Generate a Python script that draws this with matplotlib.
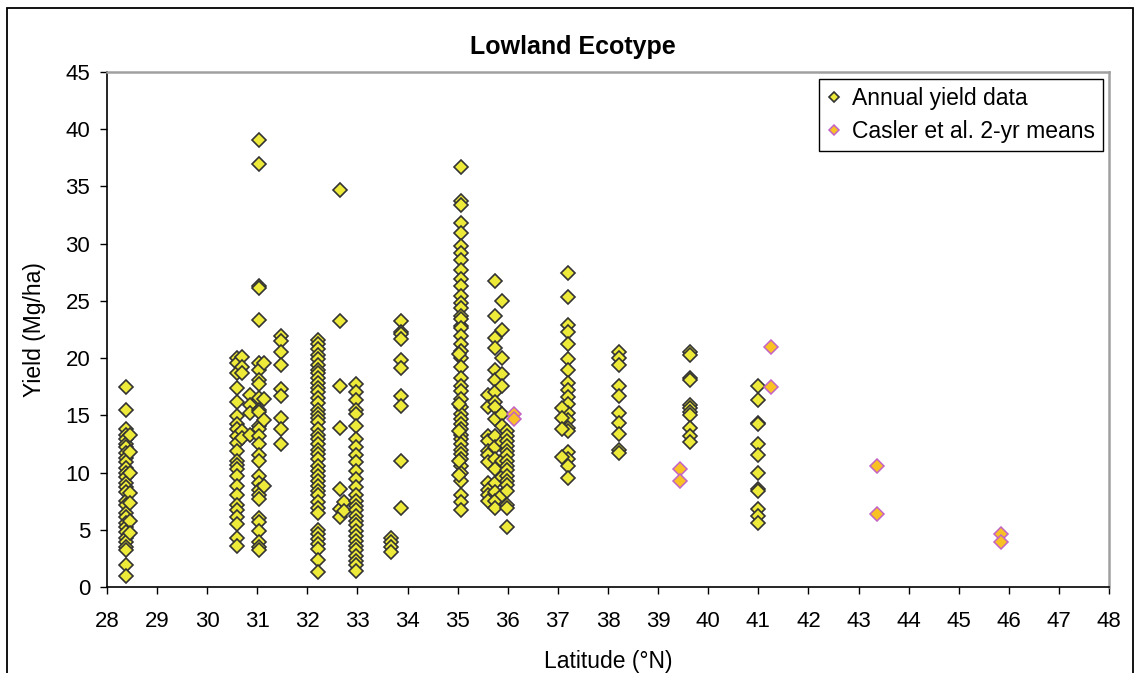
import matplotlib
matplotlib.use("Agg")
import matplotlib.pyplot as plt
from matplotlib.patches import Rectangle

plt.rcParams['font.family'] = ['Liberation Sans', 'DejaVu Sans']

# ---------------- data: annual yield (Mg/ha) by site latitude ----------------
lat_a1 = 28.38
yld_a1 = [17.5, 15.5, 13.8, 13.3, 12.9, 12.5, 12.2, 11.7, 11.3, 10.9, 10.4, 10.0, 9.6, 9.1,
          8.7, 8.3, 7.5, 7.2, 6.5, 6.1, 5.6, 5.2, 4.8, 4.3, 3.9, 3.5, 3.2, 1.9, 1.0]
lat_a2 = 28.46
yld_a2 = [13.3, 11.8, 10.0, 8.2, 7.3, 5.8, 4.7]
lat_b1 = 30.60
yld_b1 = [20.0, 19.6, 18.7, 17.4, 16.2, 14.9, 14.2, 13.8, 13.2, 12.6, 11.9, 11.0, 10.7, 10.3,
          9.7, 8.8, 8.0, 7.2, 6.7, 6.1, 5.5, 4.3, 3.6]
lat_b2 = 30.69
yld_b2 = [20.1, 19.2, 18.7, 13.6, 13.0]
lat_b3 = 30.86
yld_b3 = [16.8, 15.9, 15.2, 13.3]
lat_c1 = 31.04
yld_c1 = [39.1, 37.0, 26.3, 26.1, 23.3, 19.6, 19.0, 18.1, 17.7, 16.5, 15.5, 15.3, 14.1, 13.8,
          13.2, 12.5, 11.5, 11.0, 9.7, 9.1, 8.5, 8.0, 7.7, 6.0, 5.7, 4.9, 3.9, 3.5, 3.2]
lat_c2 = 31.14
yld_c2 = [19.6, 16.4, 14.6, 8.8]
lat_d = 31.48
yld_d = [21.9, 21.5, 20.5, 19.4, 17.3, 16.7, 14.8, 13.8, 12.5]
lat_e = 32.21
yld_e = [21.6, 21.2, 20.8, 20.3, 19.9, 19.4, 19.0, 18.7, 18.3, 17.8, 17.4, 17.0, 16.5, 16.1,
         15.5, 15.1, 14.8, 14.4, 13.8, 13.3, 12.9, 12.5, 12.0, 11.6, 11.2, 10.6, 10.1, 9.7,
         9.3, 8.8, 8.4, 8.0, 7.4, 6.9, 6.5, 5.0, 4.6, 4.2, 3.8, 3.3, 2.4, 1.3]
lat_f = 32.66
yld_f = [34.7, 23.2, 17.6, 13.9, 8.6, 6.8, 6.1]
lat_f2 = 32.74
yld_f2 = [7.4, 6.6]
lat_g = 32.98
yld_g = [17.7, 17.0, 16.3, 15.5, 15.1, 14.1, 12.9, 12.2, 11.5, 10.9, 10.1, 9.4, 8.7, 8.0,
         7.5, 7.1, 6.7, 6.2, 5.8, 5.4, 4.9, 4.5, 4.0, 3.6, 3.2, 2.7, 2.3, 1.9, 1.4]
lat_h = 33.67
yld_h = [4.3, 3.9, 3.5, 3.1]
lat_i = 33.87
yld_i = [23.2, 22.3, 22.1, 21.7, 19.8, 19.1, 16.7, 15.8, 11.0, 6.9]
lat_j = 35.07
yld_j = [36.7, 33.7, 33.4, 31.8, 30.9, 29.8, 29.2, 28.6, 27.7, 26.9, 26.3, 25.4, 24.8, 24.4,
         23.7, 22.8, 23.4, 22.6, 21.9, 21.2, 20.6, 20.0, 19.2, 18.3, 17.6, 17.1, 16.4, 15.7,
         15.1, 14.7, 14.2, 13.8, 13.3, 12.9, 12.5, 12.0, 11.6, 11.2, 10.6, 10.0, 9.3, 8.0,
         7.4, 6.7]
lat_j2 = 35.03
yld_j2 = [20.4, 16.0, 13.6, 11.0, 9.8]
lat_k = 35.60
yld_k = [16.8, 15.7, 13.2, 12.8, 11.9, 11.5, 10.9, 9.1, 8.5, 8.0, 7.5]
lat_l = 35.75
yld_l = [26.7, 23.7, 21.8, 20.9, 19.0, 18.1, 17.0, 16.2, 15.7, 14.7, 13.2, 12.2, 11.2, 10.3,
         9.1, 8.3, 7.5, 6.9]
lat_m = 35.88
yld_m = [25.0, 22.5, 20.0, 18.6, 17.6, 15.1, 14.1, 12.7, 11.0, 9.6, 8.0]
lat_n = 35.99
yld_n = [13.6, 13.2, 12.8, 12.3, 11.9, 11.5, 11.0, 10.6, 10.2, 9.7, 9.3, 8.9, 8.4, 7.2,
         6.9, 5.2]
lat_o = 37.21
yld_o = [27.4, 25.3, 22.9, 22.3, 21.2, 19.9, 19.0, 17.8, 17.2, 16.6, 16.0, 15.2, 14.6, 13.9,
         13.6, 11.8, 11.2, 10.6, 9.5]
lat_o2 = 37.09
yld_o2 = [15.6, 14.8, 13.8, 11.4]
lat_p = 38.21
yld_p = [20.5, 20.0, 19.4, 17.6, 16.7, 15.2, 14.3, 13.4, 12.0, 11.7]
lat_q = 39.63
yld_q = [20.5, 20.3, 18.3, 18.1, 15.9, 15.6, 15.3, 15.0, 13.9, 13.2, 12.7]
lat_r = 40.99
yld_r = [17.6, 16.3, 14.3, 14.2, 12.5, 11.5, 10.0, 8.6, 8.4, 6.8, 6.2, 5.6]

# ---------------- data: Casler et al. 2-yr means ----------------
casler_lat = [36.13, 36.13, 39.43, 39.43, 41.25, 41.25, 43.36, 43.36, 45.84, 45.84]
casler_yld = [15.1, 14.7, 10.3, 9.3, 21.0, 17.5, 10.6, 6.4, 4.6, 3.9]

# ticks
x_ticks = list(range(28, 49))
y_ticks = list(range(0, 46, 5))

groups = [(lat_a1, yld_a1), (lat_a2, yld_a2), (lat_b1, yld_b1), (lat_b2, yld_b2),
          (lat_b3, yld_b3), (lat_c1, yld_c1), (lat_c2, yld_c2), (lat_d, yld_d),
          (lat_e, yld_e), (lat_f, yld_f), (lat_f2, yld_f2), (lat_g, yld_g), (lat_h, yld_h),
          (lat_i, yld_i), (lat_j, yld_j), (lat_j2, yld_j2), (lat_k, yld_k), (lat_l, yld_l),
          (lat_m, yld_m), (lat_n, yld_n), (lat_o, yld_o), (lat_o2, yld_o2), (lat_p, yld_p),
          (lat_q, yld_q), (lat_r, yld_r)]
annual_lat = []
annual_yld = []
for la, ys in groups:
    annual_lat += [la] * len(ys)
    annual_yld += ys

W, H = 1138, 673
fig = plt.figure(figsize=(W / 100, H / 100), dpi=100)
ax = fig.add_axes([107 / W, 1 - 587 / H, (1109 - 107) / W, (587 - 72) / H])

ax.plot(annual_lat, annual_yld, linestyle='none', marker='D', markersize=7.6,
        markerfacecolor='#EEEA3A', markeredgecolor='#333333', markeredgewidth=1.2,
        label='Annual yield data')
ax.plot(casler_lat, casler_yld, linestyle='none', marker='D', markersize=7.2,
        markerfacecolor='#F8C224', markeredgecolor='#C463C4', markeredgewidth=1.1,
        label='Casler et al. 2-yr means')

ax.set_xlim(28, 48)
ax.set_ylim(0, 45)
ax.set_xticks(x_ticks)
ax.set_yticks(y_ticks)
ax.tick_params(axis='both', direction='out', length=5, width=1, labelsize=16, colors='black')
ax.tick_params(axis='y', pad=7)
ax.tick_params(axis='x', pad=12)

for side in ['top', 'right']:
    ax.spines[side].set_color('#A0A0A0')
    ax.spines[side].set_linewidth(1.8)
for side in ['left', 'bottom']:
    ax.spines[side].set_color('black')
    ax.spines[side].set_linewidth(1.2)

ax.set_xlabel('Latitude (°N)', fontsize=16.5, labelpad=13)
fig.text(35 / W, 1 - 330 / H, 'Yield (Mg/ha)', rotation=90, fontsize=16.5,
         ha='center', va='center')
fig.text(573 / W, 1 - 47 / H, 'Lowland Ecotype', fontsize=18, fontweight='bold',
         ha='center', va='center')

leg = ax.legend(loc='upper right', bbox_to_anchor=(1103 / W, 1 - 79 / H),
                bbox_transform=fig.transFigure, fontsize=16.5, frameon=True,
                fancybox=False, framealpha=1, edgecolor='black', borderpad=0.35,
                handlelength=0.6, handletextpad=0.5, labelspacing=0.45,
                markerscale=0.7, borderaxespad=0)
leg.get_frame().set_linewidth(1.0)

# outer frame of the chart
fig.patches.append(Rectangle((7 / W, -0.05), (1133 - 7) / W, 1.05 - 8 / H,
                             transform=fig.transFigure, fill=False,
                             edgecolor='black', linewidth=1.3))

fig.savefig('out.png', dpi=100)
